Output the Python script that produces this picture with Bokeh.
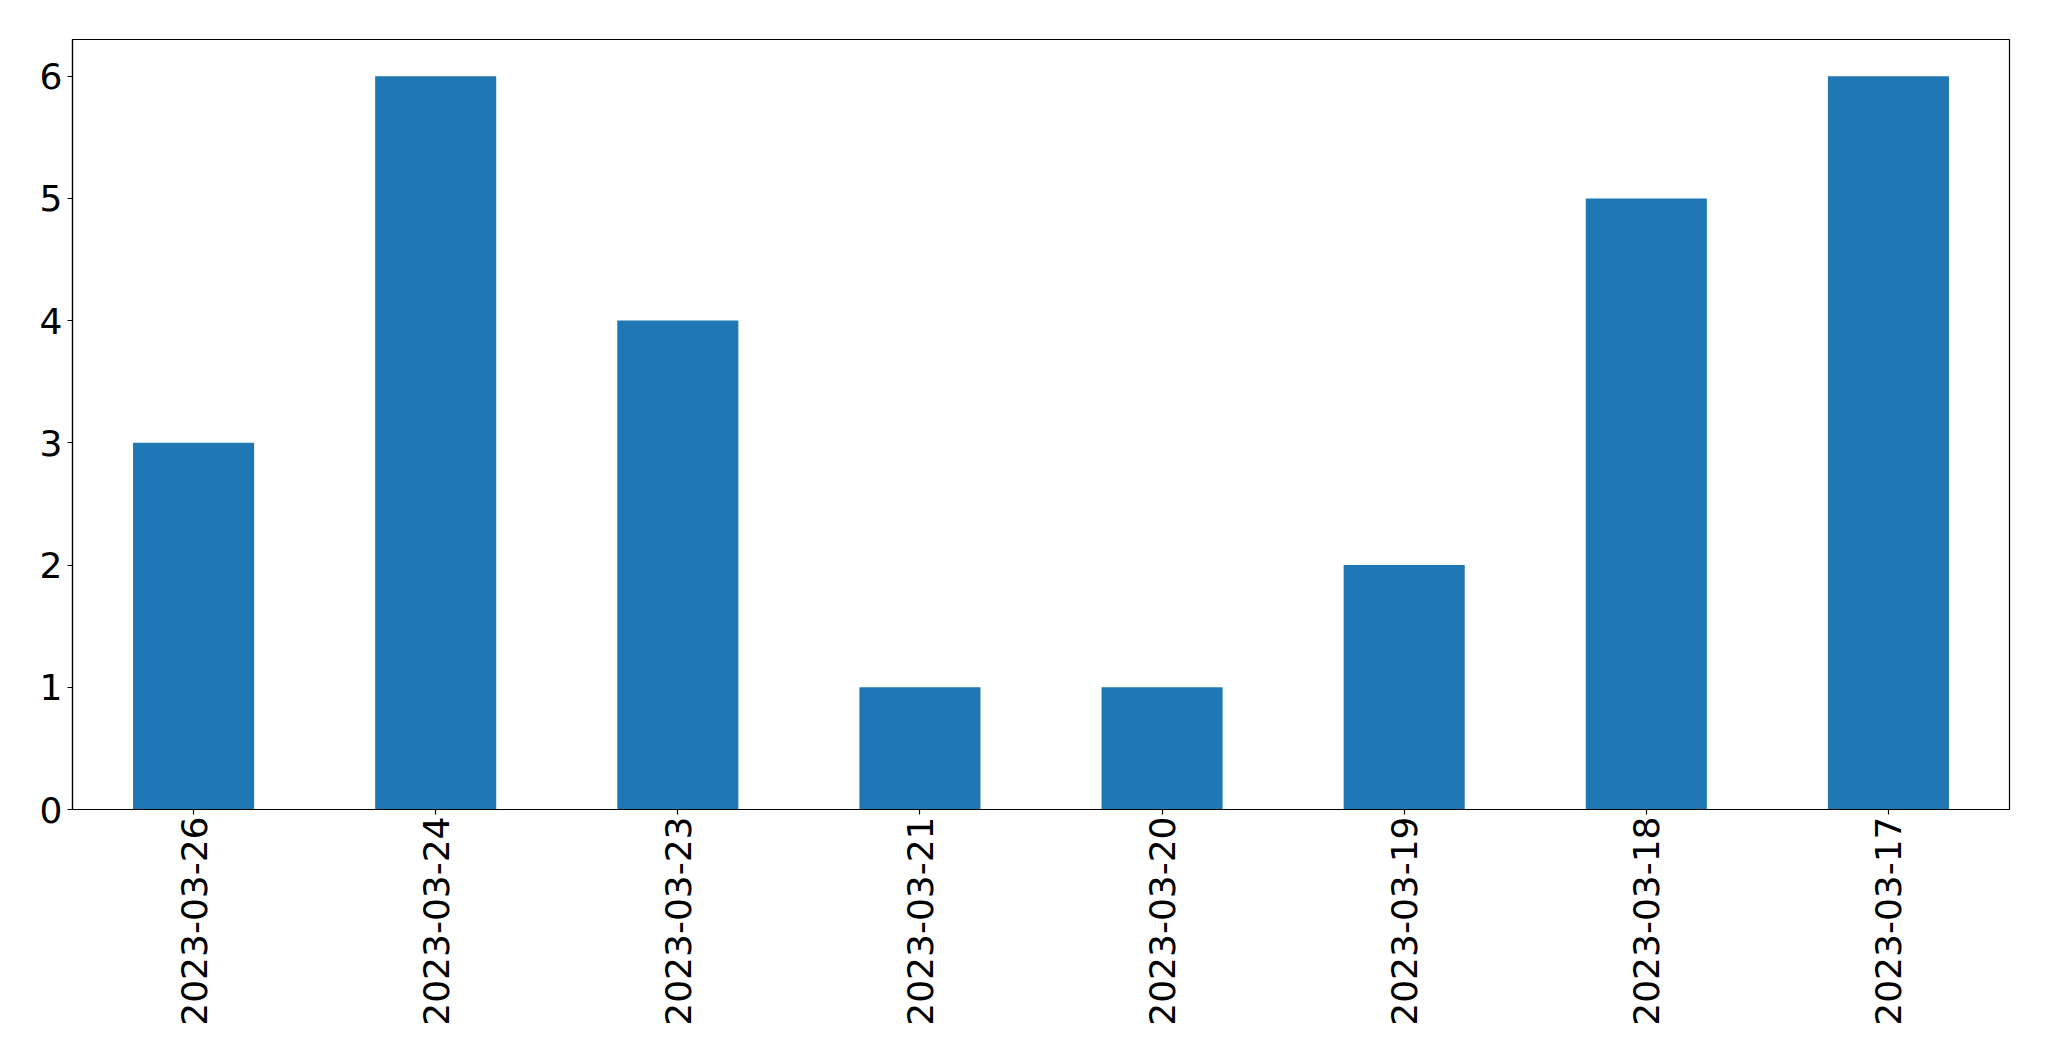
import math
from bokeh.plotting import figure
from bokeh.models import ColumnDataSource, FactorRange, Range1d, FixedTicker
from bokeh.embed import file_html
from bokeh.resources import INLINE

dates = ["2023-03-26", "2023-03-24", "2023-03-23", "2023-03-21",
         "2023-03-20", "2023-03-19", "2023-03-18", "2023-03-17"]
counts = [3, 6, 4, 1, 1, 2, 5, 6]
y_ticks = [0, 1, 2, 3, 4, 5, 6]

source = ColumnDataSource(data=dict(date=dates, count=counts))

p = figure(
    x_range=FactorRange(*dates),
    y_range=Range1d(0, 6.3),
    width=2033, height=1045,
    output_backend="svg", toolbar_location=None,
    min_border_left=72, min_border_top=39, min_border_right=24, min_border_bottom=236,
)
p.vbar(x="date", top="count", width=0.5, source=source,
       fill_color="#1f77b4", line_color=None)

p.xgrid.grid_line_color = None
p.ygrid.grid_line_color = None
p.outline_line_color = "black"
p.outline_line_width = 1.2
p.background_fill_color = "white"
p.border_fill_color = "white"

p.yaxis.ticker = FixedTicker(ticks=y_ticks)
for ax in (p.xaxis[0], p.yaxis[0]):
    ax.axis_line_color = "black"
    ax.axis_line_width = 1.2
    ax.major_tick_line_color = "black"
    ax.major_tick_line_width = 1.2
    ax.major_tick_in = 0
    ax.major_tick_out = 5
    ax.minor_tick_line_color = None
    ax.major_label_text_font = "DejaVu Sans"
    ax.major_label_text_font_size = "36px"
    ax.major_label_text_color = "black"

p.xaxis.major_label_orientation = math.pi / 2
p.xaxis.major_label_standoff = 2
p.yaxis.major_label_standoff = 5

open("out.html", "w").write(file_html(p, INLINE))
